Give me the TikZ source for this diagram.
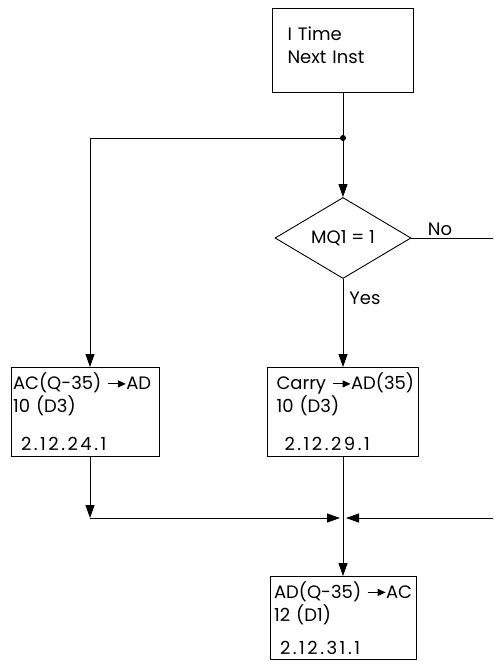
\documentclass[tikz,border=0pt]{standalone}
\usepackage{fontspec}
\setmainfont{Poppins}
\usetikzlibrary{arrows.meta,shapes.geometric}

\newcommand{\gives}{\tikz[baseline=-0.6ex]\draw[line width=0.9pt,
    -{Triangle[length=8pt,width=7pt]}] (0pt,0pt) -- (18pt,0pt);}
\newcommand{\secref}[1]{{\addfontfeature{LetterSpace=14}#1}}

\begin{document}
\begin{tikzpicture}[
    x=1pt,
    y=-1pt,
    font=\fontsize{18}{23}\selectfont,
    >={Triangle[length=13pt,width=9pt]},
    stepbox/.style={
        draw,
        line width=0.9pt,
        align=left,
        anchor=north,
        inner ysep=2pt
    },
    test/.style={
        draw,
        line width=0.9pt,
        diamond,
        aspect=1.68,
        minimum width=136pt,
        minimum height=81pt,
        inner sep=0pt
    },
    flow/.style={
        ->,
        line width=0.9pt
    },
    line/.style={
        line width=0.9pt
    },
    edgeLabel/.style={
        inner sep=2pt
    }
]

\useasboundingbox (0,0) rectangle (493,664);

% Top of the flow
\node[stepbox, minimum width=141pt, minimum height=84pt,
      text width=111pt, inner xsep=15pt] (nextInst) at (343,8) {
    I Time\\
    Next Inst\\[-12pt]
    ~
};

\node[test] (mqTest) at (343,238) {MQ1 = 1};

% Middle row
\node[stepbox, minimum width=148pt, minimum height=89pt,
      text width=144pt, inner xsep=2pt] (acToAd) at (85,367) {
    \mbox{AC(Q-35) \gives AD}\\
    10 (D3)\\[15pt]
    \hspace*{8pt}\secref{2.12.24.1}
};

\node[stepbox, minimum width=151pt, minimum height=89pt,
      text width=133pt, inner xsep=9pt] (carryAd) at (343,367) {
    \mbox{Carry \gives AD(35)}\\
    10 (D3)\\[15pt]
    \hspace*{8pt}\secref{2.12.29.1}
};

% Bottom
\node[stepbox, minimum width=146pt, minimum height=83pt,
      text width=138pt, inner xsep=4pt] (adToAc) at (343,576) {
    \mbox{AD(Q-35) \gives AC}\\
    12 (D1)\\[10pt]
    \hspace*{6pt}\secref{2.12.31.1}
};

% Branch points
\coordinate (split) at (343,138);
\coordinate (leftTop) at (90,138);
\coordinate (leftBottom) at (90,518);
\coordinate (merge) at (343,518);
\coordinate (noOut) at (493,238);
\coordinate (noIn) at (493,518);

\draw[flow] (nextInst.south) -- (mqTest.north);
\fill (split) circle (3pt);

\draw[flow]
    (split)
    --
    (leftTop)
    --
    (leftTop |- acToAd.north);

\draw[line]
    (mqTest.east)
    --
    node[edgeLabel, above, pos=0.35] {No}
    (noOut);

\draw[flow]
    (mqTest.south)
    --
    node[edgeLabel, right, pos=0.22, xshift=4pt] {Yes}
    (carryAd.north);

% Joining the two paths
\draw[flow] (leftBottom |- acToAd.south) -- (leftBottom);
\draw[flow] (leftBottom) -- ([xshift=-3pt]merge);
\draw[flow] (noIn) -- ([xshift=3pt]merge);

\draw[flow] (carryAd.south) -- (adToAc.north);

\end{tikzpicture}
\end{document}
